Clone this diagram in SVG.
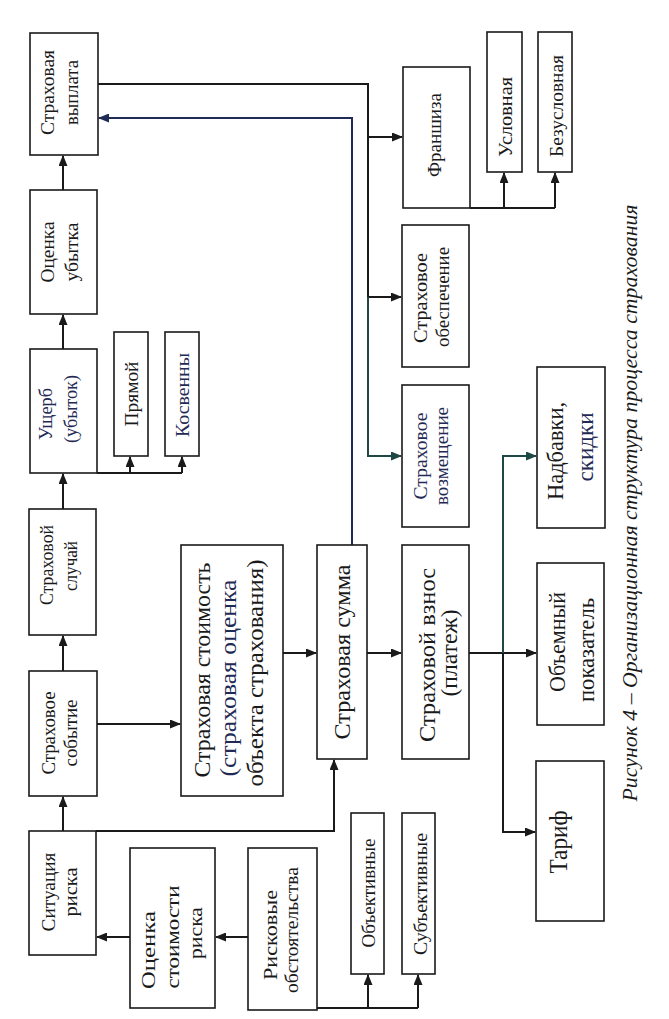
<svg xmlns="http://www.w3.org/2000/svg" width="669" height="1019" viewBox="0 0 669 1019">
<defs>
<style>
rect.b{fill:#ffffff;stroke:#1a1a1a;stroke-width:1.6}
text{font-family:"Liberation Serif","Times New Roman",serif;fill:#1a1a1a;font-size:19px;text-anchor:middle}
text.big{font-size:23px}
text.nv{fill:#1f2a55}
.c{fill:none;stroke:#1a1a1a;stroke-width:2}
.cn{fill:none;stroke:#1f2a55;stroke-width:2}
.ct{fill:none;stroke:#1e4745;stroke-width:2}
.cap{font-style:italic;font-size:22px}
</style>
<marker id="a" markerUnits="userSpaceOnUse" markerWidth="11" markerHeight="9" refX="10" refY="4.5" orient="auto"><path d="M0,0 L11,4.5 L0,9 z" fill="#1a1a1a"/></marker>
<marker id="an" markerUnits="userSpaceOnUse" markerWidth="11" markerHeight="9" refX="10" refY="4.5" orient="auto"><path d="M0,0 L11,4.5 L0,9 z" fill="#1f2a55"/></marker>
<marker id="at" markerUnits="userSpaceOnUse" markerWidth="11" markerHeight="9" refX="10" refY="4.5" orient="auto"><path d="M0,0 L11,4.5 L0,9 z" fill="#1e4745"/></marker>
</defs>
<rect width="669" height="1019" fill="#ffffff"/>

<g id="connectors">
<path class="c" d="M63,190 V156" marker-end="url(#a)"/>
<path class="c" d="M63,349 V315" marker-end="url(#a)"/>
<path class="c" d="M63,509 V474" marker-end="url(#a)"/>
<path class="c" d="M63,671 V636" marker-end="url(#a)"/>
<path class="c" d="M63,831 V797" marker-end="url(#a)"/>
<path class="c" d="M97,473 H182"/>
<path class="c" d="M130,473 V457" marker-end="url(#a)"/>
<path class="c" d="M182,473 V457" marker-end="url(#a)"/>
<path class="c" d="M97,724 H180" marker-end="url(#a)"/>
<path class="c" d="M283,653 H316" marker-end="url(#a)"/>
<path class="c" d="M367,653 H401" marker-end="url(#a)"/>
<path class="c" d="M469,653 H536" marker-end="url(#a)"/>
<path class="c" d="M503,653 V832 H535" marker-end="url(#a)"/>
<path class="ct" d="M503,653 V456 H536" marker-end="url(#at)"/>
<path class="c" d="M96,831 H334 V760" marker-end="url(#a)"/>
<path class="c" d="M130,937 H97" marker-end="url(#a)"/>
<path class="c" d="M248,937 H216" marker-end="url(#a)"/>
<path class="c" d="M317,1008 H418"/>
<path class="c" d="M368,1008 V975" marker-end="url(#a)"/>
<path class="c" d="M418,1008 V975" marker-end="url(#a)"/>
<path class="c" d="M98,84 H368 V297"/>
<path class="c" d="M368,137 H402" marker-end="url(#a)"/>
<path class="c" d="M368,297 H401" marker-end="url(#a)"/>
<path class="ct" d="M368,297 V456 H401" marker-end="url(#at)"/>
<path class="cn" d="M352,545 V118 H99" marker-end="url(#an)"/>
<path class="c" d="M470,208 H555"/>
<path class="c" d="M504,208 V173" marker-end="url(#a)"/>
<path class="c" d="M555,208 V173" marker-end="url(#a)"/>
</g>

<g id="vyplata"><rect class="b" x="30" y="33" width="68" height="122"/>
<text transform="translate(54,92.5) rotate(-90)" textLength="85" lengthAdjust="spacingAndGlyphs">Страховая</text>
<text transform="translate(78,92.5) rotate(-90)" textLength="65" lengthAdjust="spacingAndGlyphs">выплата</text></g>

<g id="ocenka_ubytka"><rect class="b" x="30" y="190" width="67" height="124"/>
<text transform="translate(54,252) rotate(-90)" textLength="61" lengthAdjust="spacingAndGlyphs">Оценка</text>
<text transform="translate(78,252) rotate(-90)" textLength="59" lengthAdjust="spacingAndGlyphs">убытка</text></g>

<g id="usherb"><rect class="b" x="30" y="349" width="67" height="124"/>
<text class="nv" transform="translate(52,414) rotate(-90)" textLength="52" lengthAdjust="spacingAndGlyphs">Ущерб</text>
<text class="nv" transform="translate(77,409) rotate(-90)" textLength="68" lengthAdjust="spacingAndGlyphs">(убыток)</text></g>

<g id="pryamoy"><rect class="b" x="114" y="332" width="34" height="124"/>
<text transform="translate(138,394) rotate(-90)" textLength="65" lengthAdjust="spacingAndGlyphs">Прямой</text></g>

<g id="kosvenny"><rect class="b" x="165" y="332" width="34" height="124"/>
<text class="nv" transform="translate(189,395) rotate(-90)" textLength="84" lengthAdjust="spacingAndGlyphs">Косвенны</text></g>

<g id="sluchay"><rect class="b" x="29" y="509" width="67" height="126"/>
<text transform="translate(53,565) rotate(-90)" textLength="80" lengthAdjust="spacingAndGlyphs">Страховой</text>
<text transform="translate(77,566) rotate(-90)" textLength="50" lengthAdjust="spacingAndGlyphs">случай</text></g>

<g id="sobytie"><rect class="b" x="29" y="671" width="68" height="125"/>
<text transform="translate(55,733) rotate(-90)" textLength="83" lengthAdjust="spacingAndGlyphs">Страховое</text>
<text transform="translate(77,733) rotate(-90)" textLength="67" lengthAdjust="spacingAndGlyphs">событие</text></g>

<g id="situaciya"><rect class="b" x="29" y="831" width="67" height="124"/>
<text transform="translate(55,892) rotate(-90)" textLength="79" lengthAdjust="spacingAndGlyphs">Ситуация</text>
<text transform="translate(77,892) rotate(-90)" textLength="49" lengthAdjust="spacingAndGlyphs">риска</text></g>

<g id="ocenka_stoimosti"><rect class="b" x="130" y="848" width="85" height="160"/>
<text transform="translate(155,950) rotate(-90)" textLength="78" lengthAdjust="spacingAndGlyphs">Оценка</text>
<text transform="translate(179,937) rotate(-90)" textLength="103" lengthAdjust="spacingAndGlyphs">стоимости</text>
<text transform="translate(202,933) rotate(-90)" textLength="52" lengthAdjust="spacingAndGlyphs">риска</text></g>

<g id="riskovye"><rect class="b" x="248" y="848" width="69" height="162"/>
<text transform="translate(277,935) rotate(-90)" textLength="90" lengthAdjust="spacingAndGlyphs">Рисковые</text>
<text transform="translate(298,930) rotate(-90)" textLength="126" lengthAdjust="spacingAndGlyphs">обстоятельства</text></g>

<g id="obektivnye"><rect class="b" x="351" y="813" width="33" height="161"/>
<text transform="translate(375,893) rotate(-90)" textLength="109" lengthAdjust="spacingAndGlyphs">Объективные</text></g>

<g id="subektivnye"><rect class="b" x="402" y="813" width="33" height="161"/>
<text transform="translate(427,894) rotate(-90)" textLength="122" lengthAdjust="spacingAndGlyphs">Субъективные</text></g>

<g id="stoimost"><rect class="b" x="181" y="545" width="102" height="251"/>
<text class="big" transform="translate(210,670) rotate(-90)" textLength="215" lengthAdjust="spacingAndGlyphs">Страховая стоимость</text>
<text class="big nv" transform="translate(236,678) rotate(-90)" textLength="197" lengthAdjust="spacingAndGlyphs">(страховая оценка</text>
<text class="big" transform="translate(263,673) rotate(-90)" textLength="227" lengthAdjust="spacingAndGlyphs">объекта страхования)</text></g>

<g id="summa"><rect class="b" x="317" y="545" width="50" height="214"/>
<text class="big" transform="translate(350,652) rotate(-90)" textLength="175" lengthAdjust="spacingAndGlyphs">Страховая сумма</text></g>

<g id="vznos"><rect class="b" x="402" y="545" width="67" height="214"/>
<text class="big" transform="translate(435,655) rotate(-90)" textLength="174" lengthAdjust="spacingAndGlyphs">Страховой взнос</text>
<text class="big" transform="translate(457,653) rotate(-90)" textLength="87" lengthAdjust="spacingAndGlyphs">(платеж)</text></g>

<g id="vozmeshchenie"><rect class="b" x="402" y="385" width="67" height="142"/>
<text class="nv" transform="translate(427,456) rotate(-90)" textLength="87" lengthAdjust="spacingAndGlyphs">Страховое</text>
<text class="nv" transform="translate(448,456) rotate(-90)" textLength="98" lengthAdjust="spacingAndGlyphs">возмещение</text></g>

<g id="obespechenie"><rect class="b" x="402" y="225" width="67" height="142"/>
<text transform="translate(427,298) rotate(-90)" textLength="90" lengthAdjust="spacingAndGlyphs">Страховое</text>
<text transform="translate(449,297) rotate(-90)" textLength="100" lengthAdjust="spacingAndGlyphs">обеспечение</text></g>

<g id="franshiza"><rect class="b" x="403" y="67" width="67" height="141"/>
<text transform="translate(441,135) rotate(-90)" textLength="84" lengthAdjust="spacingAndGlyphs">Франшиза</text></g>

<g id="uslovnaya"><rect class="b" x="487" y="32" width="35" height="140"/>
<text transform="translate(512,117) rotate(-90)" textLength="80" lengthAdjust="spacingAndGlyphs">Условная</text></g>

<g id="bezuslovnaya"><rect class="b" x="538" y="32" width="34" height="140"/>
<text transform="translate(563,106) rotate(-90)" textLength="102" lengthAdjust="spacingAndGlyphs">Безусловная</text></g>

<g id="nadbavki"><rect class="b" x="537" y="367" width="68" height="161"/>
<text class="big" transform="translate(563,451) rotate(-90)" textLength="98" lengthAdjust="spacingAndGlyphs">Надбавки,</text>
<text class="big nv" transform="translate(593,447) rotate(-90)" textLength="69" lengthAdjust="spacingAndGlyphs">скидки</text></g>

<g id="obemny"><rect class="b" x="537" y="563" width="67" height="162"/>
<text class="big" transform="translate(565,642) rotate(-90)" textLength="100" lengthAdjust="spacingAndGlyphs">Объемный</text>
<text class="big" transform="translate(594,650) rotate(-90)" textLength="104" lengthAdjust="spacingAndGlyphs">показатель</text></g>

<g id="tarif"><rect class="b" x="536" y="761" width="68" height="160"/>
<text class="big" style="font-size:25px" transform="translate(567,842) rotate(-90)" textLength="63" lengthAdjust="spacingAndGlyphs">Тариф</text></g>

<g id="caption">
<text class="cap" transform="translate(637,503) rotate(-90)" textLength="597" lengthAdjust="spacingAndGlyphs">Рисунок 4 – Организационная структура процесса страхования</text>
</g>
</svg>
